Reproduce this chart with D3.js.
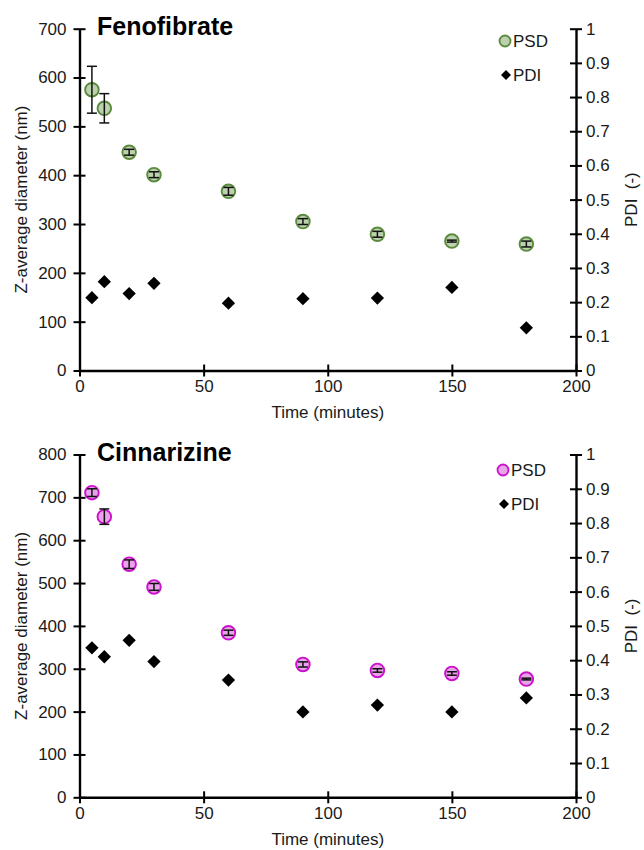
<!DOCTYPE html>
<html><head><meta charset="utf-8">
<script src="https://cdn.jsdelivr.net/npm/d3@7"></script>
<style>body{margin:0;background:#fff}svg{display:block;font-family:"Liberation Sans",Arial,sans-serif}</style>
</head><body><svg id="c" width="644" height="850"></svg>
<script>
const times = [5, 10, 20, 30, 60, 90, 120, 150, 180];
const fenoPSD = [575, 537, 447, 401, 367, 305, 279, 265, 259];
const fenoPSDErr = [48, 30, 6, 6, 8, 6, 6, 2, 6];
const fenoPDI = [0.213, 0.26, 0.225, 0.255, 0.197, 0.21, 0.212, 0.243, 0.125];
const cinnPSD = [711, 655, 544, 491, 384, 310, 296, 289, 276];
const cinnPSDErr = [9, 18, 10, 8, 6, 6, 4, 4, 2];
const cinnPDI = [0.436, 0.41, 0.458, 0.396, 0.342, 0.249, 0.269, 0.249, 0.290];
const xTicks = [0, 50, 100, 150, 200];
const fenoYTicks = [0, 100, 200, 300, 400, 500, 600, 700];
const cinnYTicks = [0, 100, 200, 300, 400, 500, 600, 700, 800];
const pdiTicks = [0, 0.1, 0.2, 0.3, 0.4, 0.5, 0.6, 0.7, 0.8, 0.9, 1];

const svg = d3.select("#c");
const FS = 17;

function panel(o) {
  const g = svg.append("g");
  const x = d3.scaleLinear().domain([0, 200]).range([79.5, 576]);
  const yL = d3.scaleLinear().domain([0, o.ymax]).range([o.y0, o.y1]);
  const yR = d3.scaleLinear().domain([0, 1]).range([o.y0, o.y1]);

  const crossTicks = (sel, orient) => {
    sel.selectAll(".tick line").remove();
    sel.selectAll(".tick").append("line")
      .attr(orient === "x" ? "y1" : "x1", -6).attr(orient === "x" ? "y2" : "x2", 6)
      .attr("stroke", "#000").attr("stroke-width", 2);
    sel.select(".domain").attr("stroke-width", 2.4);
    sel.selectAll("text").attr("font-size", FS).attr("fill", "#1a1a1a").attr("font-family", "Liberation Sans, Arial, sans-serif");
  };

  const gx = g.append("g").attr("transform", `translate(0,${o.y0})`)
    .call(d3.axisBottom(x).tickValues(xTicks).tickSizeOuter(0).tickSize(0).tickPadding(16).tickFormat(d3.format("d")));
  crossTicks(gx, "x");
  gx.selectAll("text").attr("dy", "0.35em").attr("y", 16);

  const gl = g.append("g").attr("transform", `translate(79.5,0)`)
    .call(d3.axisLeft(yL).tickValues(o.yTicks).tickSizeOuter(0).tickSize(0).tickPadding(13).tickFormat(d3.format("d")));
  crossTicks(gl, "y");

  const gr = g.append("g").attr("transform", `translate(576,0)`)
    .call(d3.axisRight(yR).tickValues(pdiTicks).tickSizeOuter(0).tickSize(0).tickPadding(10).tickFormat(d => d === 0 ? "0" : d === 1 ? "1" : d3.format(".1f")(d)));
  crossTicks(gr, "y");

  // axis titles
  g.append("text").attr("x", 327.75).attr("y", o.y0 + 42).attr("dy", "0.35em")
    .attr("text-anchor", "middle").attr("font-size", FS).attr("fill", "#1a1a1a").text("Time (minutes)");
  const cy = (o.y0 + o.y1) / 2;
  g.append("text").attr("transform", `translate(21,${cy}) rotate(-90)`).attr("dy", "0.35em")
    .attr("text-anchor", "middle").attr("font-size", FS).attr("fill", "#1a1a1a").text("Z-average diameter (nm)");
  g.append("text").attr("transform", `translate(631,${cy}) rotate(-90)`).attr("dy", "0.35em")
    .attr("text-anchor", "middle").attr("font-size", FS).attr("fill", "#1a1a1a").attr("xml:space", "preserve").text("PDI  (-)");

  // title
  g.append("text").attr("x", 97).attr("y", o.y1 + 6).attr("font-size", 25).attr("font-weight", "bold")
    .attr("fill", "#000").text(o.title);

  const data = times.map((t, i) => ({ t, psd: o.psd[i], err: o.err[i], pdi: o.pdi[i] }));

  // PDI diamonds
  const diamond = d3.symbol().type(d3.symbolSquare).size(88);
  g.selectAll(".pdi").data(data).join("path")
    .attr("d", diamond).attr("fill", "#000")
    .attr("transform", d => `translate(${x(d.t)},${yR(d.pdi)}) rotate(45)`);

  // PSD circles
  g.selectAll(".psd").data(data).join("circle")
    .attr("cx", d => x(d.t)).attr("cy", d => yL(d.psd)).attr("r", 6.8)
    .attr("fill", o.fill).attr("stroke", o.stroke).attr("stroke-width", 1.9);

  // error bars
  const eb = g.selectAll(".eb").data(data).join("g").attr("stroke", "#111").attr("stroke-width", 1.5);
  eb.append("line").attr("x1", d => x(d.t)).attr("x2", d => x(d.t))
    .attr("y1", d => yL(d.psd - d.err)).attr("y2", d => yL(d.psd + d.err));
  eb.append("line").attr("x1", d => x(d.t) - 5).attr("x2", d => x(d.t) + 5)
    .attr("y1", d => yL(d.psd - d.err)).attr("y2", d => yL(d.psd - d.err));
  eb.append("line").attr("x1", d => x(d.t) - 5).attr("x2", d => x(d.t) + 5)
    .attr("y1", d => yL(d.psd + d.err)).attr("y2", d => yL(d.psd + d.err));

  // legend
  const lx = o.legX, ly = o.legY;
  g.append("circle").attr("cx", lx).attr("cy", ly).attr("r", 5.5)
    .attr("fill", o.fill).attr("stroke", o.stroke).attr("stroke-width", 1.8);
  g.append("text").attr("x", lx + 8).attr("y", ly).attr("dy", "0.35em").attr("font-size", FS).attr("fill", "#1a1a1a").text("PSD");
  g.append("path").attr("d", d3.symbol().type(d3.symbolSquare).size(50))
    .attr("transform", `translate(${lx + 1},${ly + 34}) rotate(45)`).attr("fill", "#000");
  g.append("text").attr("x", lx + 8).attr("y", ly + 34).attr("dy", "0.35em").attr("font-size", FS).attr("fill", "#1a1a1a").text("PDI");
}

panel({ title: "Fenofibrate", ymax: 700, yTicks: fenoYTicks, y0: 370.5, y1: 28.7,
  psd: fenoPSD, err: fenoPSDErr, pdi: fenoPDI, fill: "rgba(160,190,140,0.7)", stroke: "#5a8a3c", legX: 505, legY: 41 });
panel({ title: "Cinnarizine", ymax: 800, yTicks: cinnYTicks, y0: 797.3, y1: 454.5,
  psd: cinnPSD, err: cinnPSDErr, pdi: cinnPDI, fill: "rgba(228,140,228,0.8)", stroke: "#cc11cc", legX: 503, legY: 470 });
</script></body></html>
